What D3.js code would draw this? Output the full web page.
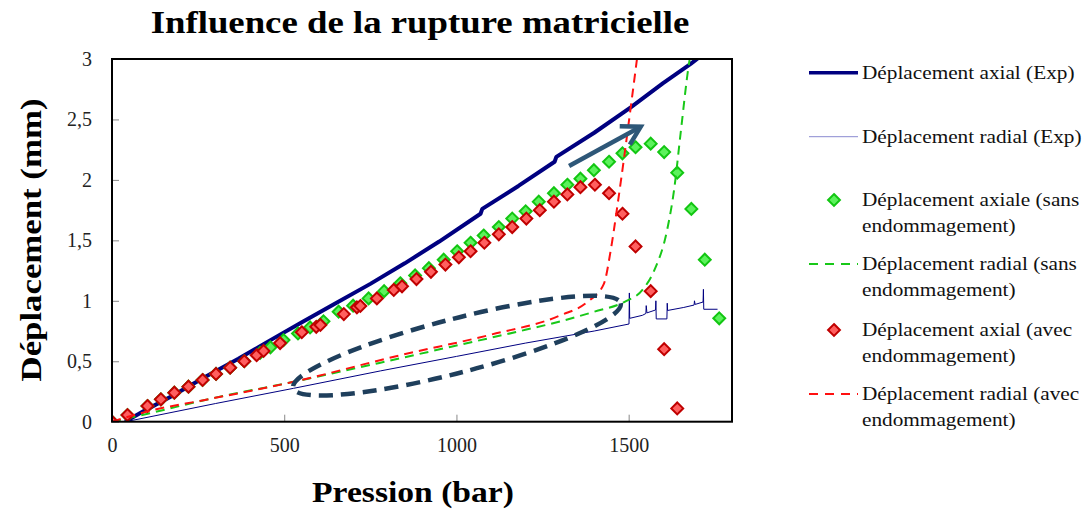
<!DOCTYPE html>
<html><head><meta charset="utf-8">
<script src="https://cdn.jsdelivr.net/npm/d3@7"></script>
<style>body{margin:0;background:#fff}svg{display:block}</style>
</head><body>
<script>
// ---------- DATA ----------
const xTicks = [0, 500, 1000, 1500];
const yTicks = [0, 0.5, 1, 1.5, 2, 2.5, 3];
const yTickLabels = ["0", "0,5", "1", "1,5", "2", "2,5", "3"];

// Déplacement axial (Exp) [pression, déplacement]
const axialExp = [[38,0],[100,0.1],[173,0.21],[270,0.37],[367,0.52],[445,0.65],[550,0.82],[643,0.97],[750,1.14],[850,1.31],[950,1.49],[1070,1.72],[1075,1.76],[1180,1.95],[1285,2.15],[1290,2.19],[1400,2.39],[1506,2.60],[1600,2.80],[1680,2.96],[1712,3.03]];
// Déplacement radial (Exp)
const radialExp = [[40,0],[300,0.15],[527,0.276],[779,0.42],[1000,0.54],[1200,0.65],[1400,0.75],[1501,0.808],[1502,1.065],[1503,0.855],[1540,0.88],[1550,0.895],[1551,0.96],[1553,0.90],[1578,0.924],[1579,1.0],[1580,0.85],[1611,0.85],[1612,0.98],[1613,0.92],[1660,0.945],[1690,0.965],[1691,1.0],[1693,0.97],[1716,0.99],[1717,1.095],[1718,0.93],[1758,0.93]];
// Déplacement axiale (sans endommagement)
const axialSans = [[0,0],[45,0.055],[103,0.13],[142,0.185],[181,0.24],[222,0.29],[263,0.345],[302,0.395],[343,0.447],[384,0.50],[430,0.57],[460,0.615],[498,0.675],[540,0.73],[575,0.78],[614,0.83],[658,0.91],[700,0.96],[745,1.02],[790,1.08],[837,1.145],[880,1.21],[920,1.27],[963,1.34],[1002,1.41],[1041,1.48],[1079,1.54],[1123,1.61],[1162,1.68],[1201,1.74],[1239,1.82],[1283,1.89],[1322,1.96],[1360,2.01],[1399,2.08],[1443,2.15],[1482,2.22],[1520,2.27],[1564,2.30],[1603,2.23],[1641,2.06],[1682,1.76],[1721,1.34],[1763,0.855]];
// Déplacement radial (sans endommagement)
const radialSans = [[0,0],[110,0.07],[270,0.18],[527,0.33],[798,0.50],[1000,0.63],[1200,0.76],[1302,0.83],[1400,0.91],[1487,0.99],[1540,1.09],[1574,1.25],[1612,1.59],[1632,1.92],[1651,2.39],[1675,2.96],[1679,3.03]];
// Déplacement axial (avec endommagement)
const axialAvec = [[0,0],[45,0.055],[103,0.13],[142,0.185],[181,0.24],[222,0.29],[263,0.345],[302,0.395],[343,0.447],[384,0.50],[420,0.55],[440,0.585],[488,0.65],[551,0.74],[593,0.785],[605,0.80],[673,0.89],[711,0.946],[721,0.957],[769,1.02],[818,1.09],[842,1.12],[884,1.18],[926,1.24],[968,1.30],[1007,1.36],[1041,1.41],[1081,1.48],[1123,1.55],[1162,1.61],[1203,1.68],[1242,1.75],[1283,1.82],[1322,1.88],[1360,1.94],[1402,1.96],[1443,1.89],[1482,1.72],[1520,1.45],[1564,1.08],[1603,0.60],[1641,0.11]];
// Déplacement radial (avec endommagement)
const radialAvec = [[0,0],[110,0.09],[270,0.18],[527,0.33],[837,0.55],[1100,0.72],[1302,0.88],[1380,0.99],[1428,1.14],[1448,1.42],[1467,1.78],[1487,2.19],[1506,2.60],[1525,3.02]];

// annotations (data coordinates)
const ellipseTips = [[526,0.278],[1477,0.98]];
const arrowPts = [[1327,2.115],[1535,2.44]];

const legendLabels = [
  ["Déplacement axial (Exp)"],
  ["Déplacement radial (Exp)"],
  ["Déplacement axiale (sans","endommagement)"],
  ["Déplacement radial (sans","endommagement)"],
  ["Déplacement axial (avec","endommagement)"],
  ["Déplacement radial (avec","endommagement)"]
];

// ---------- CHART ----------
const W = 1089, H = 513;
const FONT = "'Liberation Serif','Times New Roman',serif";
const svg = d3.select("body").append("svg").attr("width", W).attr("height", H)
  .style("font-family", FONT);
svg.append("rect").attr("width", W).attr("height", H).attr("fill", "#fff");

const x = d3.scaleLinear().domain([0, 1800]).range([112, 732]);
const y = d3.scaleLinear().domain([0, 3]).range([421.7, 59]);

const col = {navy:"#000080", gFill:"#5cf25c", gStroke:"#12c612", rFill:"#ff5f5f", rStroke:"#c00000",
  gDash:"#18c818", rDash:"#ff1010", annot:"#1f3f5c"};

svg.append("clipPath").attr("id","clip").append("rect")
  .attr("x", 112).attr("y", 59).attr("width", 620).attr("height", 362.7);

// ticks (inside)
const gx = svg.append("g").attr("transform", `translate(0,${y(0)})`)
  .call(d3.axisBottom(x).tickValues(xTicks).tickSize(-7).tickPadding(16).tickFormat(d3.format("d")));
const gy = svg.append("g").attr("transform", `translate(${x(0)},0)`)
  .call(d3.axisLeft(y).tickValues(yTicks).tickSize(-7).tickPadding(20).tickFormat((d,i)=>yTickLabels[i]));
[gx, gy].forEach(g => {
  g.select(".domain").remove();
  g.selectAll(".tick line").attr("stroke", "#888").attr("stroke-width", 1);
  g.selectAll(".tick text").attr("font-size", 20).attr("fill", "#222")
    .style("font-family", FONT);
});

const plot = svg.append("g").attr("clip-path", "url(#clip)");
const lineGen = d3.line().x(d => x(d[0])).y(d => y(d[1]));
const smooth = d3.line().x(d => x(d[0])).y(d => y(d[1])).curve(d3.curveMonotoneX);

// series in Excel order
plot.append("path").datum(axialExp).attr("d", lineGen).attr("fill","none")
  .attr("stroke", col.navy).attr("stroke-width", 4).attr("stroke-linejoin","round");
plot.append("path").datum(radialExp).attr("d", lineGen).attr("fill","none")
  .attr("stroke", col.navy).attr("stroke-width", 1);

const diamond = d3.symbol().type(d3.symbolDiamond2).size(90);
function diamonds(data, fill, stroke) {
  plot.append("g").selectAll("path").data(data).join("path")
    .attr("d", diamond).attr("transform", d => `translate(${x(d[0])},${y(d[1])})`)
    .attr("fill", fill).attr("stroke", stroke).attr("stroke-width", 2);
}
diamonds(axialSans, col.gFill, col.gStroke);
plot.append("path").datum(radialSans).attr("d", smooth).attr("fill","none")
  .attr("stroke", col.gDash).attr("stroke-width", 2).attr("stroke-dasharray","9,6");
diamonds(axialAvec, col.rFill, col.rStroke);
plot.append("path").datum(radialAvec).attr("d", smooth).attr("fill","none")
  .attr("stroke", col.rDash).attr("stroke-width", 2).attr("stroke-dasharray","9,6");

// frame
svg.append("rect").attr("x", 112).attr("y", 59).attr("width", 620).attr("height", 362.7)
  .attr("fill","none").attr("stroke","#000").attr("stroke-width", 2);

// annotation ellipse
{
  const p1 = [x(ellipseTips[0][0]), y(ellipseTips[0][1])], p2 = [x(ellipseTips[1][0]), y(ellipseTips[1][1])];
  const cx = (p1[0]+p2[0])/2, cy = (p1[1]+p2[1])/2;
  const rx = Math.hypot(p2[0]-p1[0], p2[1]-p1[1]) / 2;
  const ang = Math.atan2(p2[1]-p1[1], p2[0]-p1[0]) * 180 / Math.PI;
  svg.append("ellipse").attr("cx", cx).attr("cy", cy).attr("rx", rx).attr("ry", 27)
    .attr("transform", `rotate(${ang},${cx},${cy})`)
    .attr("fill","none").attr("stroke", col.annot).attr("stroke-width", 4.5)
    .attr("stroke-dasharray","14,8");
}
// annotation arrow
{
  const a = [x(arrowPts[0][0]), y(arrowPts[0][1])], b = [x(arrowPts[1][0]), y(arrowPts[1][1])];
  const th = Math.atan2(a[1]-b[1], a[0]-b[0]);
  const L = 21, s = Math.PI/6;
  const h1 = [b[0]+L*Math.cos(th+s), b[1]+L*Math.sin(th+s)];
  const h2 = [b[0]+L*Math.cos(th-s), b[1]+L*Math.sin(th-s)];
  svg.append("line").attr("x1",a[0]).attr("y1",a[1]).attr("x2",b[0]).attr("y2",b[1])
    .attr("stroke","#2e5778").attr("stroke-width",4.5);
  svg.append("polyline").attr("points", [h1,b,h2].map(p=>p.join(",")).join(" "))
    .attr("fill","none").attr("stroke","#2e5778").attr("stroke-width",4.5).attr("stroke-linejoin","miter");
}

// titles (slightly widened to mimic the Garamond face of the original)
svg.append("text").attr("transform","translate(420,33) scale(1.15,1)").attr("text-anchor","middle")
  .attr("font-size", 32).attr("font-weight","bold").text("Influence de la rupture matricielle");
svg.append("text").attr("transform","translate(413,502) scale(1.12,1)").attr("text-anchor","middle")
  .attr("font-size", 30).attr("font-weight","bold").text("Pression (bar)");
svg.append("text").attr("transform","translate(41,240) rotate(-90) scale(1.16,1)").attr("text-anchor","middle")
  .attr("font-size", 30).attr("font-weight","bold").text("Déplacement (mm)");

// legend
const legY = [72.7, 136.7, 200, 264, 330, 394];
const lg = svg.append("g");
legendLabels.forEach((lines, i) => {
  const yy = legY[i];
  if (i === 0) lg.append("line").attr("x1",809).attr("x2",858).attr("y1",yy).attr("y2",yy).attr("stroke",col.navy).attr("stroke-width",3.5);
  if (i === 1) lg.append("line").attr("x1",809).attr("x2",858).attr("y1",yy).attr("y2",yy).attr("stroke","#8a8ad0").attr("stroke-width",1);
  if (i === 2) lg.append("path").attr("d", diamond).attr("transform",`translate(834,${yy})`).attr("fill",col.gFill).attr("stroke",col.gStroke).attr("stroke-width",2);
  if (i === 4) lg.append("path").attr("d", diamond).attr("transform",`translate(834,${yy})`).attr("fill",col.rFill).attr("stroke",col.rStroke).attr("stroke-width",2);
  if (i === 3) lg.append("line").attr("x1",809).attr("x2",858).attr("y1",yy).attr("y2",yy).attr("stroke",col.gDash).attr("stroke-width",2).attr("stroke-dasharray","9,7");
  if (i === 5) lg.append("line").attr("x1",809).attr("x2",858).attr("y1",yy).attr("y2",yy).attr("stroke",col.rDash).attr("stroke-width",2).attr("stroke-dasharray","9,7");
  lines.forEach((t, j) => {
    lg.append("text").attr("transform", `translate(862,${yy + 6 + j*26}) scale(1.15,1)`)
      .attr("font-size", 18.5).attr("fill","#111").text(t);
  });
});
</script>
</body></html>
